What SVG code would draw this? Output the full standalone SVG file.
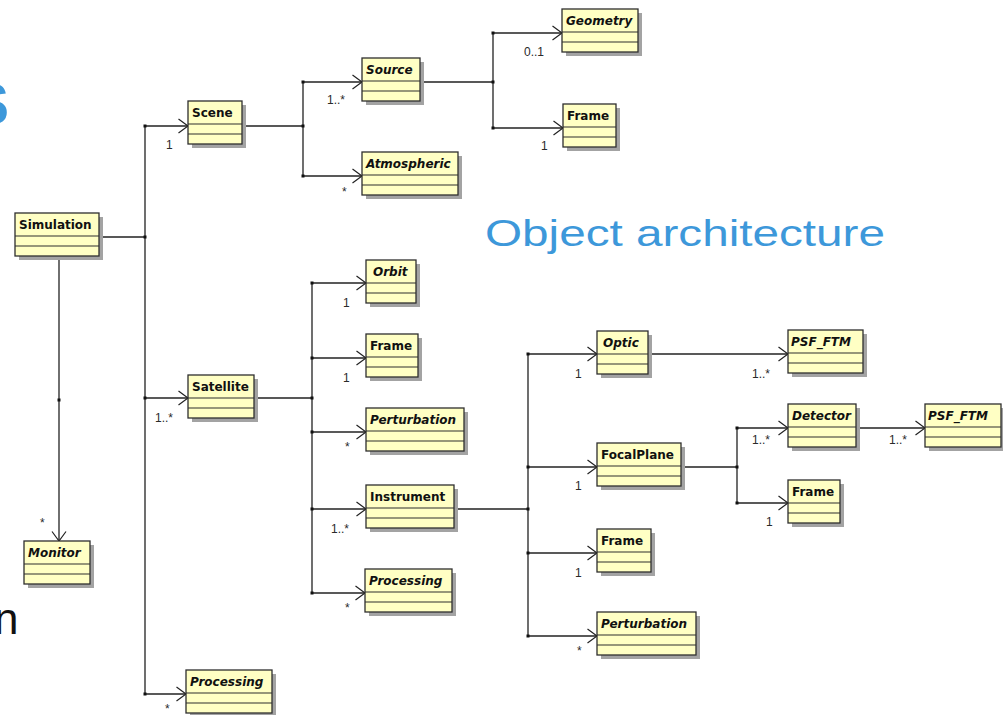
<svg xmlns="http://www.w3.org/2000/svg" width="1003" height="715" viewBox="0 0 1003 715">
  <style>
    .sh { fill: #a3a3a3; }
    .bx { fill: #ffffc4; stroke: #2e2e2e; stroke-width: 1.3; }
    .sep { stroke: #2e2e2e; stroke-width: 1.2; fill: none; }
    .nm { font-family: "DejaVu Sans", "Liberation Sans", sans-serif; font-weight: bold; font-size: 12px; fill: #111; }
    .ab { font-style: italic; }
    .ml { font-family: "Liberation Sans", Arial, sans-serif; font-size: 12px; fill: #2a2a2a; }
    .ln { stroke: #222; stroke-width: 1.3; fill: none; }
    .ar { marker-end: url(#open); }
    .dot { fill: #111; }
    .title { font-family: "Liberation Sans", Arial, sans-serif; fill: #3d98da; }
  </style>
  <defs>
    <marker id="open" markerUnits="userSpaceOnUse" viewBox="0 0 10 16" refX="10" refY="8" markerWidth="10" markerHeight="16" orient="auto">
      <path d="M0.5,1 L10,8 L0.5,15" fill="none" stroke="#222" stroke-width="1.2"/>
    </marker>
  </defs>

  <rect width="1003" height="715" fill="#ffffff"/>

  <!-- slide text partly outside the frame -->
  <text class="title" x="-29" y="124" font-size="57" font-weight="bold">S</text>
  <text x="-6" y="634" font-family="Liberation Sans, Arial, sans-serif" font-size="44" fill="#111">n</text>
  <text class="title" x="485" y="246" font-size="36" textLength="400" lengthAdjust="spacingAndGlyphs">Object architecture</text>

  <!-- associations -->
  <g id="connectors">
    <!-- Simulation -->
    <path class="ln" d="M99 237H145M145 126V694"/>
    <path class="ln ar" d="M145 126H188"/>
    <path class="ln ar" d="M145 398H188"/>
    <path class="ln ar" d="M145 694H186"/>
    <path class="ln ar" d="M59 256V541"/>
    <!-- Scene -->
    <path class="ln" d="M242 126H303M303 82V176"/>
    <path class="ln ar" d="M303 82H362"/>
    <path class="ln ar" d="M303 176H362"/>
    <!-- Source -->
    <path class="ln" d="M420 82H493M493 33V128"/>
    <path class="ln ar" d="M493 33H562"/>
    <path class="ln ar" d="M493 128H563"/>
    <!-- Satellite -->
    <path class="ln" d="M254 398H312M312 283V593"/>
    <path class="ln ar" d="M312 283H366"/>
    <path class="ln ar" d="M312 358H366"/>
    <path class="ln ar" d="M312 432H366"/>
    <path class="ln ar" d="M312 509H366"/>
    <path class="ln ar" d="M312 593H365"/>
    <!-- Instrument -->
    <path class="ln" d="M454 509H528M528 354V636"/>
    <path class="ln ar" d="M528 354H597"/>
    <path class="ln ar" d="M528 467H597"/>
    <path class="ln ar" d="M528 553H597"/>
    <path class="ln ar" d="M528 636H597"/>
    <!-- Optic -->
    <path class="ln ar" d="M648 354H788"/>
    <!-- FocalPlane -->
    <path class="ln" d="M681 467H737M737 428V503"/>
    <path class="ln ar" d="M737 428H788"/>
    <path class="ln ar" d="M737 503H788"/>
    <!-- Detector -->
    <path class="ln ar" d="M856 428H925"/>

    <!-- junction points -->
    <g class="dot">
      <rect x="143.5" y="124.5" width="3" height="3"/>
      <rect x="143.5" y="235.5" width="3" height="3"/>
      <rect x="143.5" y="396.5" width="3" height="3"/>
      <rect x="143.5" y="692.5" width="3" height="3"/>
      <rect x="57.5" y="398.5" width="3" height="3"/>
      <rect x="301.5" y="80.5" width="3" height="3"/>
      <rect x="301.5" y="124.5" width="3" height="3"/>
      <rect x="301.5" y="174.5" width="3" height="3"/>
      <rect x="491.5" y="31.5" width="3" height="3"/>
      <rect x="491.5" y="80.5" width="3" height="3"/>
      <rect x="491.5" y="126.5" width="3" height="3"/>
      <rect x="310.5" y="281.5" width="3" height="3"/>
      <rect x="310.5" y="356.5" width="3" height="3"/>
      <rect x="310.5" y="396.5" width="3" height="3"/>
      <rect x="310.5" y="430.5" width="3" height="3"/>
      <rect x="310.5" y="507.5" width="3" height="3"/>
      <rect x="310.5" y="591.5" width="3" height="3"/>
      <rect x="526.5" y="352.5" width="3" height="3"/>
      <rect x="526.5" y="465.5" width="3" height="3"/>
      <rect x="526.5" y="507.5" width="3" height="3"/>
      <rect x="526.5" y="551.5" width="3" height="3"/>
      <rect x="526.5" y="634.5" width="3" height="3"/>
      <rect x="735.5" y="426.5" width="3" height="3"/>
      <rect x="735.5" y="465.5" width="3" height="3"/>
      <rect x="735.5" y="501.5" width="3" height="3"/>
    </g>

    <!-- multiplicities -->
    <text class="ml" x="166" y="149">1</text>
    <text class="ml" x="327" y="104">1..*</text>
    <text class="ml" x="342" y="196">*</text>
    <text class="ml" x="524" y="56">0..1</text>
    <text class="ml" x="541" y="150">1</text>
    <text class="ml" x="155" y="422">1..*</text>
    <text class="ml" x="40" y="527">*</text>
    <text class="ml" x="165" y="713">*</text>
    <text class="ml" x="343" y="307">1</text>
    <text class="ml" x="343" y="382">1</text>
    <text class="ml" x="345" y="451">*</text>
    <text class="ml" x="331" y="533">1..*</text>
    <text class="ml" x="345" y="612">*</text>
    <text class="ml" x="575" y="378">1</text>
    <text class="ml" x="575" y="490">1</text>
    <text class="ml" x="575" y="577">1</text>
    <text class="ml" x="577" y="655">*</text>
    <text class="ml" x="752" y="378">1..*</text>
    <text class="ml" x="752" y="444">1..*</text>
    <text class="ml" x="889" y="444">1..*</text>
    <text class="ml" x="766" y="526">1</text>
  </g>

  <!-- classes -->
  <g id="simulation">
    <rect class="sh" x="19" y="217" width="84" height="43"/>
    <rect class="bx" x="15" y="213" width="84" height="43"/>
    <path class="sep" d="M15 236h84M15 246h84"/>
    <text class="nm" x="19" y="228.5">Simulation</text>
  </g>
  <g id="scene">
    <rect class="sh" x="192" y="105" width="54" height="43"/>
    <rect class="bx" x="188" y="101" width="54" height="43"/>
    <path class="sep" d="M188 124h54M188 134h54"/>
    <text class="nm" x="192" y="116.5">Scene</text>
  </g>
  <g id="source">
    <rect class="sh" x="366" y="62" width="58" height="43"/>
    <rect class="bx" x="362" y="58" width="58" height="43"/>
    <path class="sep" d="M362 81h58M362 91h58"/>
    <text class="nm ab" x="366" y="73.5">Source</text>
  </g>
  <g id="atmospheric">
    <rect class="sh" x="366" y="156" width="96" height="43"/>
    <rect class="bx" x="362" y="152" width="96" height="43"/>
    <path class="sep" d="M362 175h96M362 185h96"/>
    <text class="nm ab" x="366" y="167.5">Atmospheric</text>
  </g>
  <g id="geometry">
    <rect class="sh" x="566" y="13" width="76" height="43"/>
    <rect class="bx" x="562" y="9" width="76" height="43"/>
    <path class="sep" d="M562 32h76M562 42h76"/>
    <text class="nm ab" x="566" y="24.5">Geometry</text>
  </g>
  <g id="frame-source">
    <rect class="sh" x="567" y="108" width="53" height="43"/>
    <rect class="bx" x="563" y="104" width="53" height="43"/>
    <path class="sep" d="M563 127h53M563 137h53"/>
    <text class="nm" x="567" y="119.5">Frame</text>
  </g>
  <g id="satellite">
    <rect class="sh" x="192" y="379" width="66" height="43"/>
    <rect class="bx" x="188" y="375" width="66" height="43"/>
    <path class="sep" d="M188 398h66M188 408h66"/>
    <text class="nm" x="192" y="390.5">Satellite</text>
  </g>
  <g id="orbit">
    <rect class="sh" x="370" y="264" width="50" height="43"/>
    <rect class="bx" x="366" y="260" width="50" height="43"/>
    <path class="sep" d="M366 283h50M366 293h50"/>
    <text class="nm ab" x="373" y="275.5">Orbit</text>
  </g>
  <g id="frame-satellite">
    <rect class="sh" x="370" y="338" width="52" height="43"/>
    <rect class="bx" x="366" y="334" width="52" height="43"/>
    <path class="sep" d="M366 357h52M366 367h52"/>
    <text class="nm" x="370" y="349.5">Frame</text>
  </g>
  <g id="perturbation-satellite">
    <rect class="sh" x="370" y="412" width="98" height="43"/>
    <rect class="bx" x="366" y="408" width="98" height="43"/>
    <path class="sep" d="M366 431h98M366 441h98"/>
    <text class="nm ab" x="370" y="423.5">Perturbation</text>
  </g>
  <g id="instrument">
    <rect class="sh" x="370" y="489" width="88" height="43"/>
    <rect class="bx" x="366" y="485" width="88" height="43"/>
    <path class="sep" d="M366 508h88M366 518h88"/>
    <text class="nm" x="370" y="500.5">Instrument</text>
  </g>
  <g id="processing-satellite">
    <rect class="sh" x="369" y="573" width="87" height="43"/>
    <rect class="bx" x="365" y="569" width="87" height="43"/>
    <path class="sep" d="M365 592h87M365 602h87"/>
    <text class="nm ab" x="369" y="584.5">Processing</text>
  </g>
  <g id="processing">
    <rect class="sh" x="190" y="674" width="86" height="43"/>
    <rect class="bx" x="186" y="670" width="86" height="43"/>
    <path class="sep" d="M186 693h86M186 703h86"/>
    <text class="nm ab" x="190" y="685.5">Processing</text>
  </g>
  <g id="monitor">
    <rect class="sh" x="28" y="545" width="66" height="43"/>
    <rect class="bx" x="24" y="541" width="66" height="43"/>
    <path class="sep" d="M24 564h66M24 574h66"/>
    <text class="nm ab" x="28" y="556.5">Monitor</text>
  </g>
  <g id="optic">
    <rect class="sh" x="601" y="335" width="51" height="43"/>
    <rect class="bx" x="597" y="331" width="51" height="43"/>
    <path class="sep" d="M597 354h51M597 364h51"/>
    <text class="nm ab" x="603" y="346.5">Optic</text>
  </g>
  <g id="focalplane">
    <rect class="sh" x="601" y="447" width="84" height="43"/>
    <rect class="bx" x="597" y="443" width="84" height="43"/>
    <path class="sep" d="M597 466h84M597 476h84"/>
    <text class="nm" x="601" y="458.5">FocalPlane</text>
  </g>
  <g id="frame-instrument">
    <rect class="sh" x="601" y="533" width="54" height="43"/>
    <rect class="bx" x="597" y="529" width="54" height="43"/>
    <path class="sep" d="M597 552h54M597 562h54"/>
    <text class="nm" x="601" y="544.5">Frame</text>
  </g>
  <g id="perturbation-instrument">
    <rect class="sh" x="601" y="616" width="99" height="43"/>
    <rect class="bx" x="597" y="612" width="99" height="43"/>
    <path class="sep" d="M597 635h99M597 645h99"/>
    <text class="nm ab" x="601" y="627.5">Perturbation</text>
  </g>
  <g id="psf-ftm-optic">
    <rect class="sh" x="792" y="334" width="75" height="43"/>
    <rect class="bx" x="788" y="330" width="75" height="43"/>
    <path class="sep" d="M788 353h75M788 363h75"/>
    <text class="nm ab" x="791" y="345.5">PSF_FTM</text>
  </g>
  <g id="detector">
    <rect class="sh" x="792" y="408" width="68" height="43"/>
    <rect class="bx" x="788" y="404" width="68" height="43"/>
    <path class="sep" d="M788 427h68M788 437h68"/>
    <text class="nm ab" x="792" y="419.5">Detector</text>
  </g>
  <g id="psf-ftm-detector">
    <rect class="sh" x="929" y="408" width="76" height="43"/>
    <rect class="bx" x="925" y="404" width="76" height="43"/>
    <path class="sep" d="M925 427h76M925 437h76"/>
    <text class="nm ab" x="928" y="419.5">PSF_FTM</text>
  </g>
  <g id="frame-focalplane">
    <rect class="sh" x="792" y="484" width="52" height="43"/>
    <rect class="bx" x="788" y="480" width="52" height="43"/>
    <path class="sep" d="M788 503h52M788 513h52"/>
    <text class="nm" x="792" y="495.5">Frame</text>
  </g>
</svg>
